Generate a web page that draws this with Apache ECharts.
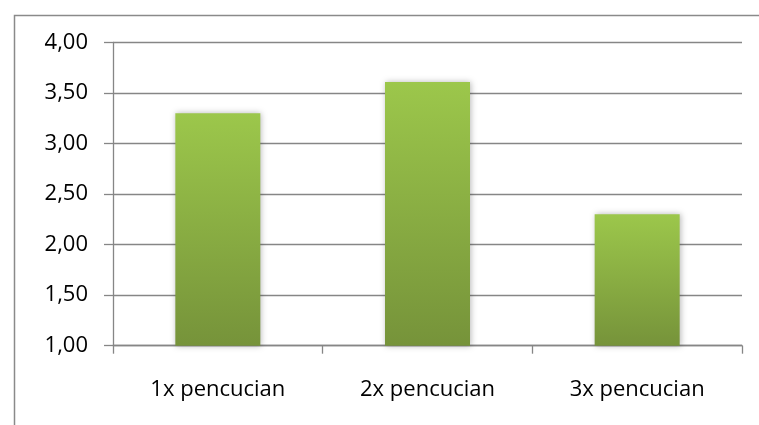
<!DOCTYPE html>
<html>
<head>
<meta charset="utf-8">
<script src="https://cdn.jsdelivr.net/npm/echarts@6/dist/echarts.min.js"></script>
<style>
  html, body { margin: 0; padding: 0; background: #fff; }
  #chart { width: 759px; height: 425px; }
</style>
</head>
<body>
<div id="chart"></div>
<script>
// Rata-rata nilai per jumlah pencucian
const categories = ['1x pencucian', '2x pencucian', '3x pencucian'];
const values = [3.30, 3.61, 2.30];
const yMin = 1;
const yMax = 4;
const yStep = 0.5;

const chart = echarts.init(document.getElementById('chart'), null, { renderer: 'canvas' });

const fontFamily = '"Open Sans", "Noto Sans", sans-serif';
const lineColor = '#868686';

chart.setOption({
  animation: false,
  graphic: [{
    type: 'rect',
    left: 12,
    top: 13,
    shape: { width: 800, height: 500 },
    style: { fill: 'none', stroke: '#8a8a8a', lineWidth: 1.5 },
    silent: true
  }],
  grid: { left: 113, right: 17, top: 42.5, bottom: 79.3 },
  xAxis: {
    type: 'category',
    data: categories,
    axisLine: { show: true, lineStyle: { color: lineColor, width: 1.3 } },
    axisTick: { show: true, alignWithLabel: false, length: 8, lineStyle: { color: lineColor, width: 1.3 } },
    axisLabel: { color: '#000', fontSize: 22, fontFamily: fontFamily, margin: 33 },
    splitLine: { show: false }
  },
  yAxis: {
    type: 'value',
    min: yMin,
    max: yMax,
    interval: yStep,
    axisLine: { show: true, lineStyle: { color: lineColor, width: 1.3 } },
    axisTick: { show: true, length: 9, lineStyle: { color: lineColor, width: 1.3 } },
    axisLabel: {
      color: '#000', fontSize: 22, fontFamily: fontFamily, margin: 25,
      formatter: v => v.toFixed(2).replace('.', ',')
    },
    splitLine: { show: true, lineStyle: { color: lineColor, width: 1.3 } }
  },
  series: [{
    type: 'bar',
    data: values,
    barWidth: 85,
    itemStyle: {
      color: new echarts.graphic.LinearGradient(0, 0, 0, 1, [
        { offset: 0, color: '#9cc74b' },
        { offset: 1, color: '#76933a' }
      ]),
      shadowColor: 'rgba(0,0,0,0.28)',
      shadowBlur: 6,
      shadowOffsetX: 1
    }
  }]
});
</script>
</body>
</html>
